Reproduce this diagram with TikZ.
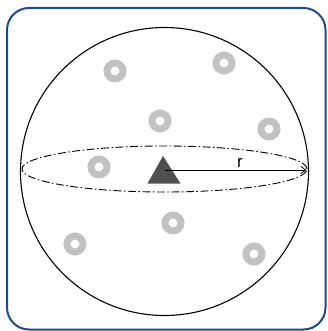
\documentclass[tikz,border=0pt]{standalone}
\usepackage{fontspec}
\setsansfont{Liberation Sans}
\usetikzlibrary{arrows.meta}
\definecolor{framecol}{HTML}{1B4C8C}
\definecolor{ringcol}{HTML}{C2C2C2}
\definecolor{tricol}{HTML}{505050}
\tikzset{
  ring/.style={draw=ringcol,line width=7pt,circle,minimum size=16pt,inner sep=0pt},
}
\begin{document}
\begin{tikzpicture}[x=1pt,y=-1pt]
\useasboundingbox (0,0) rectangle (327,331);
\draw[framecol,line width=2pt,rounded corners=22pt] (7,8) rectangle (325.5,329.5);
\node[circle,draw,line width=1.1pt,minimum size=288pt,inner sep=0pt] (sphere) at (164.5,171.5) {};
\draw[line width=0.9pt,dash pattern=on 8pt off 2.5pt on 1.5pt off 2.5pt] (164.5,169) ellipse [x radius=142.5pt,y radius=23pt];
\foreach \n/\x/\y in {a/115/71,b/224/63,c/160/121,d/269/129,e/99/167,f/173/223,g/75/244,h/254/254}
  \node[ring] (ring\n) at (\x,\y) {};
\fill[tricol] (163,156) coordinate (apex) -- (180.5,183.5) -- (147.5,183.5) -- cycle;
\coordinate (c) at (165,170);
\coordinate (rim) at (306.5,170);
\draw[line width=0.8pt,-{Straight Barb[length=5pt,width=7pt]}] (c) -- (rim) node[pos=0.53,above=-1.5pt,font=\sffamily\fontsize{17}{17}\selectfont] (rlabel) {r};
\end{tikzpicture}
\end{document}
